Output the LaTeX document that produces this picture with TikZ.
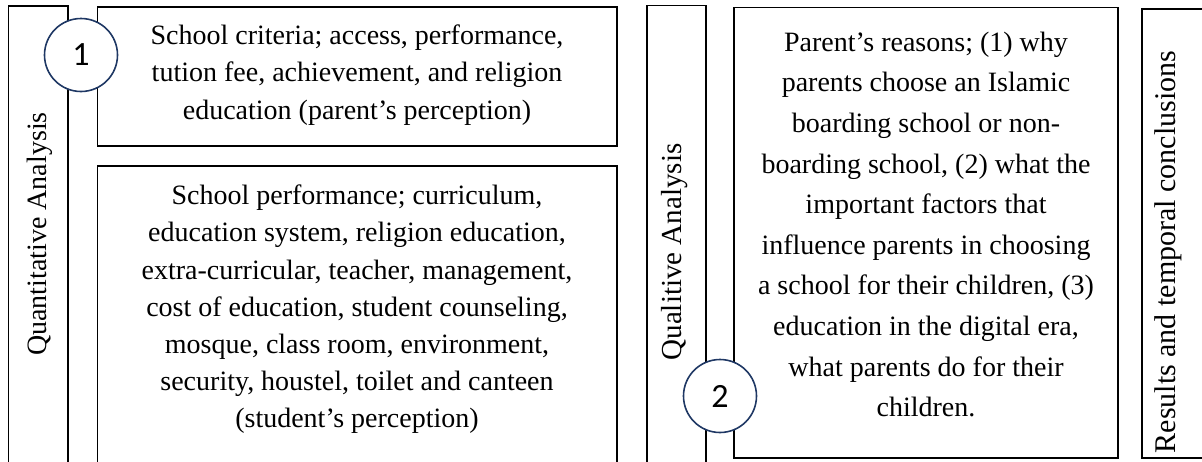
\documentclass[tikz,border=0pt]{standalone}
\usepackage{fontspec}
\setmainfont{Liberation Serif}
\newfontfamily\digitfont{Carlito}
\definecolor{ringblue}{RGB}{31,56,100}
\begin{document}
\begin{tikzpicture}[x=1pt,y=-1pt,
  frame/.style={draw=black,line width=1.8pt},
  bodytext/.style={align=center,inner sep=0pt,font=\fontsize{28}{37.2}\selectfont},
  sidetext/.style={rotate=90,inner sep=0pt},
  badge/.style={circle,draw=ringblue,line width=1.6pt,fill=white,minimum size=73pt,
    inner sep=0pt,font=\digitfont\fontsize{34}{34}\selectfont}]
\useasboundingbox (0,0) rectangle (1202,461);
\begin{scope}
  \clip (0,0) rectangle (1202,461);
  % frames of the three stages
  \draw[frame] (8.5,6) rectangle (68,490);
  \draw[frame] (97.5,7) rectangle (617,146);
  \draw[frame] (97.5,166) rectangle (617,490);
  \draw[frame] (647,5.5) rectangle (706,490);
  \draw[frame] (734,7.5) rectangle (1118,458);
  \draw[frame] (1142,9) rectangle (1230,458);
\end{scope}

% stage labels
\node[sidetext,font=\fontsize{28}{28}\selectfont] (quant) at (40,234) {Quantitative Analysis};
\node[sidetext,font=\fontsize{29}{29}\selectfont] (qual) at (675,252) {Qualitive Analysis};
\node[sidetext,font=\fontsize{30}{30}\selectfont] (res) at (1168,252) {Results and temporal conclusions};

% box contents
\node[bodytext] (criteria) at (357,75) {School criteria; access, performance,\\
  tution fee, achievement, and religion\\
  education (parent’s perception)};
\node[bodytext] (perform) at (357,309.5) {School performance; curriculum,\\
  education system, religion education,\\
  extra-curricular, teacher, management,\\
  cost of education, student counseling,\\
  mosque, class room, environment,\\
  security, houstel, toilet and canteen\\
  (student’s perception)};
\node[bodytext,font=\fontsize{28}{40.6}\selectfont] (reasons) at (926,224.5) {Parent’s reasons; (1) why\\
  parents choose an Islamic\\
  boarding school or non-\\
  boarding school, (2) what the\\
  important factors that\\
  influence parents in choosing\\
  a school for their children, (3)\\
  education in the digital era,\\
  what parents do for their\\
  children.};

% numbered badges
\node[badge] (one) at (81,55) {1};
\node[badge] (two) at (720,396) {2};
\end{tikzpicture}
\end{document}
